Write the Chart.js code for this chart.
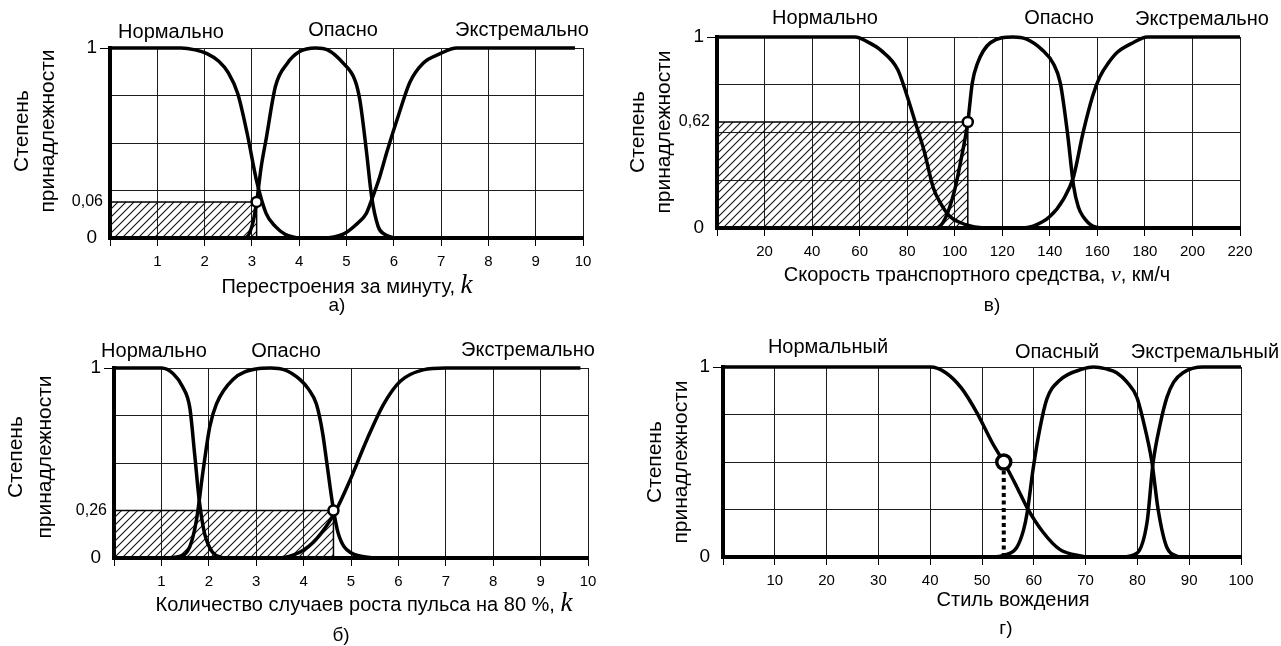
<!DOCTYPE html>
<html>
<head>
<meta charset="utf-8">
<script src="https://cdn.jsdelivr.net/npm/chart.js@4.4.1/dist/chart.umd.min.js"></script>
<style>
  html, body { margin: 0; padding: 0; background: #fff; }
  #wrap { position: relative; width: 1281px; height: 646px; overflow: hidden; background: #fff; }
  #wrap canvas { position: absolute; }
</style>
</head>
<body>
<div id="wrap">
  <canvas id="pa" width="615" height="320" style="left:0;top:0"></canvas>
  <canvas id="pv" width="666" height="320" style="left:615px;top:0"></canvas>
  <canvas id="pb" width="615" height="326" style="left:0;top:320px"></canvas>
  <canvas id="pg" width="666" height="326" style="left:615px;top:320px"></canvas>
</div>
<script>
// ---- данные ----
const catsNeuter = ['Нормально', 'Опасно', 'Экстремально'];
const catsStyle = ['Нормальный', 'Опасный', 'Экстремальный'];
const yGrid = [0, 0.25, 0.5, 0.75, 1];

// а) перестроения за минуту
const aNormX = [0, 1.5, 1.8, 2.05, 2.3, 2.5, 2.7, 2.9, 3.1, 3.3, 3.5, 3.7, 3.95];
const aNormY = [1, 1, 0.99, 0.97, 0.93, 0.87, 0.76, 0.55, 0.3, 0.13, 0.06, 0.02, 0];
const aDangX = [0, 2.85, 3.0, 3.1, 3.2, 3.3, 3.5, 3.75, 4.0, 4.35, 4.6, 4.93, 5.18, 5.28, 5.42, 5.53, 5.67, 5.8, 6.0];
const aDangY = [0, 0, 0.06, 0.19, 0.38, 0.52, 0.8, 0.92, 0.98, 1, 0.99, 0.92, 0.83, 0.73, 0.46, 0.22, 0.06, 0.02, 0];
const aExtrX = [0, 4.5, 4.93, 5.2, 5.42, 5.53, 5.7, 5.85, 6.13, 6.34, 6.62, 6.98, 7.33, 9.83];
const aExtrY = [0, 0, 0.02, 0.07, 0.13, 0.2, 0.32, 0.45, 0.67, 0.82, 0.92, 0.97, 1, 1];
const aMark = [3.1, 0.19];
const aLevelLabel = '0,06';

// в) скорость транспортного средства
const vNormX = [0, 58, 64, 69, 76, 80, 84, 87, 91, 94, 98, 102, 107, 112];
const vNormY = [1, 1, 0.97, 0.93, 0.83, 0.69, 0.53, 0.41, 0.21, 0.13, 0.06, 0.03, 0.01, 0];
const vDangX = [0, 92, 96, 100, 103, 105.5, 107.4, 109.5, 115, 124.6, 130, 137, 141.5, 144.4, 147.4, 150, 152, 154, 158, 162];
const vDangY = [0, 0, 0.05, 0.2, 0.38, 0.555, 0.76, 0.86, 0.97, 1, 0.99, 0.93, 0.86, 0.76, 0.5, 0.22, 0.11, 0.06, 0.01, 0];
const vExtrX = [0, 128, 133, 140, 145.7, 150, 154, 158, 161, 165, 168.4, 175, 181, 220];
const vExtrY = [0, 0, 0.01, 0.06, 0.15, 0.27, 0.5, 0.69, 0.79, 0.87, 0.92, 0.97, 1, 1];
const vMark = [105.5, 0.555];
const vLevelLabel = '0,62';

// б) случаи роста пульса на 80 %
const bNormX = [0, 1.0, 1.25, 1.45, 1.6, 1.7, 1.8, 1.91, 2.08, 2.3];
const bNormY = [1, 1, 0.97, 0.9, 0.79, 0.55, 0.3, 0.13, 0.03, 0];
const bDangX = [0, 1.0, 1.4, 1.6, 1.74, 1.88, 2.02, 2.16, 2.51, 3.0, 3.3, 3.6, 3.92, 4.1, 4.27, 4.4, 4.49, 4.62, 4.73, 4.98, 5.5];
const bDangY = [0, 0, 0.01, 0.06, 0.2, 0.46, 0.69, 0.81, 0.94, 0.995, 1, 0.99, 0.94, 0.89, 0.81, 0.66, 0.5, 0.27, 0.13, 0.03, 0];
const bExtrX = [0, 3.4, 3.92, 4.27, 4.66, 4.98, 5.33, 5.69, 6.04, 6.52, 7.0, 9.84];
const bExtrY = [0, 0, 0.03, 0.1, 0.24, 0.41, 0.62, 0.81, 0.93, 0.99, 1, 1];
const bMark = [4.63, 0.25];
const bLevelLabel = '0,26';

// г) стиль вождения
const gNormX = [0, 40, 43, 46, 49, 52, 54.2, 56.7, 58.7, 61.8, 65, 70];
const gNormY = [1, 1, 0.97, 0.89, 0.76, 0.6, 0.5, 0.37, 0.26, 0.13, 0.04, 0];
const gDangX = [0, 52, 54.4, 56.7, 58, 58.7, 59.9, 61.2, 62.5, 65, 69.5, 71.5, 74, 76, 78, 79.9, 81.1, 82.8, 84, 85.7, 88];
const gDangY = [0, 0, 0.01, 0.05, 0.14, 0.23, 0.47, 0.68, 0.83, 0.93, 0.99, 1, 0.99, 0.97, 0.92, 0.84, 0.72, 0.5, 0.25, 0.05, 0];
const gExtrX = [0, 77, 79.9, 81.9, 83, 84.4, 85.7, 87, 88.8, 92.7, 100];
const gExtrY = [0, 0, 0.02, 0.19, 0.49, 0.7, 0.84, 0.92, 0.97, 1, 1];
const gMark = [54.2, 0.5];

// ---- отрисовка ----
const SANS = '"Liberation Sans", Arial, sans-serif';
const SERIF = '"Liberation Serif", "Times New Roman", serif';
const GRID = '#1c1c1c';

function pts(xs, ys) { return xs.map((x, i) => ({ x, y: ys[i] })); }

function hatch() {
  const c = document.createElement('canvas');
  c.width = 8; c.height = 8;
  const g = c.getContext('2d');
  g.strokeStyle = '#111';
  g.lineWidth = 1.1;
  g.beginPath();
  g.moveTo(-1, 9); g.lineTo(9, -1);
  g.moveTo(-1, 1); g.lineTo(1, -1);
  g.moveTo(7, 9); g.lineTo(9, 7);
  g.stroke();
  return g.createPattern(c, 'repeat');
}

const textPlugin = {
  id: 'panelText',
  afterDraw(chart, args, o) {
    const g = chart.ctx;
    g.save();
    g.fillStyle = '#000';
    g.textBaseline = 'middle';
    g.textAlign = 'center';
    g.font = '20px ' + SANS;
    o.cats.forEach((t, i) => g.fillText(t, o.catPos[i][0] - o.ox, o.catPos[i][1] - o.oy));

    g.font = '21px ' + SANS;
    ['Степень', 'принадлежности'].forEach((t, i) => {
      g.save();
      g.translate(o.yTitle[i] - o.ox, o.yTitle[2] - o.oy);
      g.rotate(-Math.PI / 2);
      g.fillText(t, 0, 0);
      g.restore();
    });

    // уровень отсечения на оси y
    if (o.level) {
      g.textAlign = 'right';
      g.font = '16px ' + SANS;
      g.fillText(o.levelLabel, chart.chartArea.left - 7, chart.scales.y.getPixelForValue(o.level[1]));
    }

    // подпись оси x: обычный текст + курсивная переменная
    g.textBaseline = 'alphabetic';
    g.textAlign = 'left';
    const segs = o.xTitle;
    let w = 0;
    segs.forEach(s => { g.font = s.f; w += g.measureText(s.t).width; });
    let x = o.xTitlePos[0] - o.ox - w / 2;
    const base = o.xTitlePos[1] - o.oy + 6;
    segs.forEach(s => { g.font = s.f; g.fillText(s.t, x, base); x += g.measureText(s.t).width; });

    g.textAlign = 'center';
    g.font = '19px ' + SANS;
    g.fillText(o.sub, o.subPos[0] - o.ox, o.subPos[1] - o.oy + 6);
    g.restore();
  }
};

function panel(p) {
  const el = document.getElementById(p.id);
  const ox = parseFloat(el.style.left) || 0, oy = parseFloat(el.style.top) || 0;
  const W = 50, H = 40;
  const level = p.level;
  const yTicks = level ? yGrid.concat([level[1]]) : yGrid.slice();

  const datasets = [];
  if (p.mark) {
    datasets.push({
      data: [{ x: p.mark[0], y: p.mark[1] }], showLine: false,
      pointRadius: p.markR, pointBorderWidth: p.markB, pointBackgroundColor: '#fff',
      pointBorderColor: '#000', clip: false, order: 0
    });
  }
  p.curves.forEach(c => datasets.push({
    data: pts(c[0], c[1]), borderColor: '#000', borderWidth: 3.5, pointRadius: 0,
    cubicInterpolationMode: 'monotone', fill: false, clip: false, order: 1
  }));
  if (p.dashed) {
    datasets.push({
      data: [{ x: p.dashed[0], y: 0 }, { x: p.dashed[0], y: p.dashed[1] }],
      borderColor: '#000', borderWidth: 4, borderDash: [4, 3.5], pointRadius: 0,
      tension: 0, fill: false, clip: false, order: 1
    });
  }
  if (level) {
    datasets.push({
      data: [{ x: 0, y: level[1] }, { x: level[0], y: level[1] }, { x: level[0], y: 0 }],
      borderColor: '#000', borderWidth: 1.5, pointRadius: 0, tension: 0,
      fill: 'origin', backgroundColor: hatch(), clip: false, order: 2
    });
  }

  new Chart(el, {
    type: 'line',
    data: { datasets },
    plugins: [textPlugin],
    options: {
      responsive: false, animation: false, events: [],
      layout: {
        padding: {
          left: p.box[0] - ox - W, top: p.box[2] - oy,
          right: ox + el.width - p.box[1], bottom: oy + el.height - p.box[3] - H
        }
      },
      plugins: {
        legend: { display: false }, tooltip: { enabled: false },
        panelText: {
          ox, oy, cats: p.cats, catPos: p.catPos, yTitle: p.yTitle,
          level, levelLabel: p.levelLabel,
          xTitle: p.xTitle, xTitlePos: p.xTitlePos, sub: p.sub, subPos: p.subPos
        }
      },
      scales: {
        x: {
          type: 'linear', min: 0, max: p.xMax,
          afterFit: s => { s.height = H; },
          ticks: {
            stepSize: p.xStep, autoSkip: false, maxRotation: 0, padding: 7, color: '#000',
            font: { family: SANS, size: 15 }, callback: v => (v === 0 ? '' : String(v))
          },
          grid: { color: GRID, lineWidth: 1, tickLength: 8, tickColor: '#000' },
          border: { display: true, color: '#000', width: 4 }
        },
        y: {
          type: 'linear', min: 0, max: 1,
          afterFit: s => { s.width = W; },
          afterBuildTicks: s => { s.ticks = yTicks.map(v => ({ value: v })); },
          ticks: {
            autoSkip: false, padding: 3, color: '#000',
            font: { family: SANS, size: 19 },
            callback: v => (v === 1 ? '1' : v === 0 ? '0' : '')
          },
          grid: {
            lineWidth: 1, tickLength: 10,
            color: c => (level && c.tick && c.tick.value === level[1] ? 'rgba(0,0,0,0)' : GRID),
            tickColor: c => (c.tick && c.tick.value === 1 ? '#000' : 'rgba(0,0,0,0)')
          },
          border: { display: true, color: '#000', width: 4 }
        }
      }
    }
  });
}

panel({
  id: 'pa', box: [110, 583, 48, 238], xMax: 10, xStep: 1,
  curves: [[aNormX, aNormY], [aDangX, aDangY], [aExtrX, aExtrY]],
  level: aMark, levelLabel: aLevelLabel, mark: aMark, markR: 5, markB: 2.5,
  cats: catsNeuter, catPos: [[171, 32], [343, 30], [522, 30]],
  yTitle: [22, 48, 131],
  xTitle: [{ t: 'Перестроения за минуту, ', f: '20px ' + SANS }, { t: 'k', f: 'italic 27px ' + SERIF }],
  xTitlePos: [347, 287], sub: 'а)', subPos: [337, 305]
});

panel({
  id: 'pv', box: [717, 1240, 37, 228], xMax: 220, xStep: 20,
  curves: [[vNormX, vNormY], [vDangX, vDangY], [vExtrX, vExtrY]],
  level: vMark, levelLabel: vLevelLabel, mark: vMark, markR: 5, markB: 2.5,
  cats: catsNeuter, catPos: [[825, 18], [1059, 18], [1202, 19]],
  yTitle: [638, 664, 132],
  xTitle: [{ t: 'Скорость транспортного средства, ', f: '20px ' + SANS }, { t: 'ν', f: 'italic 22px ' + SERIF }, { t: ', км/ч', f: '20px ' + SANS }],
  xTitlePos: [977, 275], sub: 'в)', subPos: [992, 305]
});

panel({
  id: 'pb', box: [114, 588, 368, 558], xMax: 10, xStep: 1,
  curves: [[bNormX, bNormY], [bDangX, bDangY], [bExtrX, bExtrY]],
  level: bMark, levelLabel: bLevelLabel, mark: bMark, markR: 5, markB: 2.5,
  cats: catsNeuter, catPos: [[154, 351], [286, 351], [528, 350]],
  yTitle: [16, 45, 457],
  xTitle: [{ t: 'Количество случаев роста пульса на 80 %, ', f: '20px ' + SANS }, { t: 'k', f: 'italic 27px ' + SERIF }],
  xTitlePos: [364, 605], sub: 'б)', subPos: [341, 635]
});

panel({
  id: 'pg', box: [723, 1241, 367, 557], xMax: 100, xStep: 10,
  curves: [[gNormX, gNormY], [gDangX, gDangY], [gExtrX, gExtrY]],
  level: null, mark: gMark, markR: 7, markB: 3.5, dashed: [gMark[0], gMark[1] - 0.04],
  cats: catsStyle, catPos: [[828, 347], [1057, 352], [1205, 352]],
  yTitle: [655, 681, 462],
  xTitle: [{ t: 'Стиль вождения', f: '20px ' + SANS }],
  xTitlePos: [1013, 600], sub: 'г)', subPos: [1006, 628]
});
</script>
</body>
</html>
